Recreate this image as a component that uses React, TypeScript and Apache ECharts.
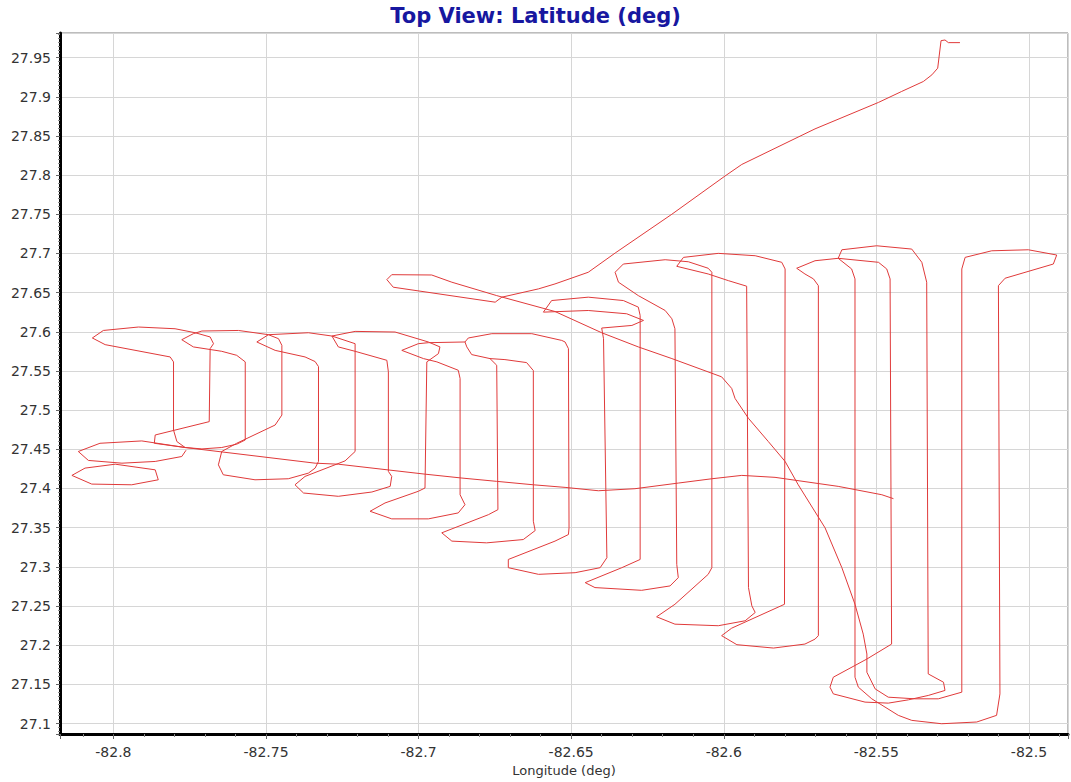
import React, { useEffect, useRef } from "react";
import * as echarts from "echarts";

// [longitude, latitude] pairs
const outboundLeg: number[][] = [
  [-82.5226, 27.9691], [-82.5264, 27.9691], [-82.5275, 27.9725], [-82.5288, 27.9716],
  [-82.5299, 27.9365], [-82.5318, 27.928], [-82.5346, 27.9195], [-82.5417, 27.9068],
  [-82.5493, 27.8928], [-82.5701, 27.859], [-82.5941, 27.8136], [-82.5996, 27.7988],
  [-82.617, 27.7501], [-82.6356, 27.7005], [-82.6444, 27.676], [-82.6553, 27.6611],
  [-82.6607, 27.6548], [-82.6727, 27.6442], [-82.6749, 27.6378],
];

const crossDiagonal: number[][] = [
  [-82.6749, 27.6378], [-82.7083, 27.6569], [-82.7104, 27.6666], [-82.7088, 27.6729],
  [-82.6957, 27.6725], [-82.6891, 27.6633], [-82.6744, 27.6462], [-82.6553, 27.6259],
  [-82.64, 27.5988], [-82.628, 27.5807], [-82.617, 27.5658], [-82.6007, 27.5425],
  [-82.5974, 27.5277], [-82.5963, 27.5149], [-82.5919, 27.4895], [-82.5854, 27.4599],
  [-82.5799, 27.4345], [-82.5756, 27.4047], [-82.5668, 27.3497], [-82.5613, 27.2989],
  [-82.557, 27.2522], [-82.5543, 27.2141], [-82.5531, 27.1887], [-82.5531, 27.1654],
  [-82.5504, 27.1442], [-82.5461, 27.1336], [-82.5373, 27.1315], [-82.5297, 27.1315],
  [-82.522, 27.14],
];

const eastSurvey: number[][] = [
  [-82.522, 27.14], [-82.522, 27.6802], [-82.5209, 27.695], [-82.5122, 27.7034],
  [-82.5002, 27.7047], [-82.4909, 27.698], [-82.492, 27.6865], [-82.5078, 27.6684],
  [-82.51, 27.6589], [-82.5095, 27.1378], [-82.5106, 27.1104], [-82.5171, 27.1019],
  [-82.5286, 27.0997], [-82.5384, 27.104], [-82.5428, 27.1104], [-82.5515, 27.1315],
  [-82.5559, 27.1464], [-82.557, 27.1591], [-82.557, 27.6675], [-82.5581, 27.6802],
  [-82.5625, 27.6938], [-82.5701, 27.6907], [-82.5761, 27.6811], [-82.5734, 27.6738],
  [-82.5706, 27.6675], [-82.569, 27.6589], [-82.569, 27.2121], [-82.5701, 27.2077],
  [-82.5734, 27.2014], [-82.5837, 27.1963], [-82.5957, 27.2006], [-82.6007, 27.2121],
  [-82.5974, 27.2217], [-82.5801, 27.2522], [-82.5799, 27.6802], [-82.581, 27.6887],
  [-82.5897, 27.6971], [-82.6018, 27.7001], [-82.6132, 27.695], [-82.6154, 27.6836],
  [-82.6051, 27.6738], [-82.5985, 27.6653], [-82.5925, 27.6582], [-82.5919, 27.2735],
  [-82.5908, 27.2502], [-82.5897, 27.2417], [-82.593, 27.2311], [-82.6018, 27.2248],
  [-82.616, 27.2268], [-82.622, 27.2362], [-82.616, 27.2522], [-82.6051, 27.2904],
  [-82.6039, 27.2989], [-82.6039, 27.676], [-82.6051, 27.6811], [-82.6116, 27.6894],
  [-82.6192, 27.692], [-82.6329, 27.6865], [-82.6356, 27.676], [-82.6345, 27.6633],
  [-82.628, 27.6462], [-82.6192, 27.6272], [-82.617, 27.6166], [-82.616, 27.6039],
  [-82.6154, 27.3031], [-82.6149, 27.2862], [-82.6176, 27.2756], [-82.6269, 27.27],
  [-82.6422, 27.2735], [-82.6454, 27.2798], [-82.6334, 27.2989], [-82.6274, 27.3094],
  [-82.6274, 27.6208], [-82.628, 27.6315], [-82.6329, 27.6399], [-82.6444, 27.6442],
  [-82.6564, 27.6399], [-82.6591, 27.6251], [-82.6444, 27.6272], [-82.6318, 27.623],
  [-82.6263, 27.6145], [-82.6301, 27.6081], [-82.64, 27.6048], [-82.6394, 27.5912],
  [-82.6383, 27.3116], [-82.6405, 27.2989], [-82.6487, 27.2925], [-82.6607, 27.2904],
  [-82.6706, 27.2989], [-82.6706, 27.3094], [-82.6553, 27.3328], [-82.6509, 27.3412],
  [-82.6507, 27.3497], [-82.6509, 27.5785], [-82.652, 27.587], [-82.6531, 27.589],
  [-82.6629, 27.5976], [-82.676, 27.5976], [-82.6837, 27.5921], [-82.6848, 27.587],
  [-82.6842, 27.5807], [-82.6826, 27.5709], [-82.6766, 27.5658], [-82.6744, 27.5573],
  [-82.674, 27.373], [-82.6771, 27.3666], [-82.6924, 27.3434], [-82.6891, 27.3328],
  [-82.6777, 27.3306], [-82.6657, 27.3348], [-82.6618, 27.3463], [-82.6624, 27.3582],
  [-82.6624, 27.5505], [-82.6646, 27.5607], [-82.6717, 27.5645], [-82.6766, 27.5658],
];

const westSurvey: number[][] = [
  [-82.6848, 27.587], [-82.6968, 27.5861], [-82.7001, 27.5848], [-82.7055, 27.5763],
  [-82.6984, 27.5658], [-82.694, 27.5616], [-82.687, 27.5509], [-82.6864, 27.5404],
  [-82.6864, 27.392], [-82.6848, 27.3793], [-82.687, 27.3688], [-82.6968, 27.3612],
  [-82.7088, 27.3612], [-82.7159, 27.3709], [-82.711, 27.3815], [-82.7001, 27.3964],
  [-82.6979, 27.4006], [-82.6973, 27.5616], [-82.6935, 27.5721], [-82.693, 27.5807],
  [-82.6968, 27.587], [-82.7077, 27.5997], [-82.7208, 27.6005], [-82.7284, 27.5946],
  [-82.7263, 27.5807], [-82.7208, 27.5751], [-82.7104, 27.5636], [-82.7099, 27.5489],
  [-82.7099, 27.4218], [-82.7088, 27.4154], [-82.7093, 27.4027], [-82.7153, 27.3955],
  [-82.7263, 27.39], [-82.7377, 27.3942], [-82.7405, 27.4047], [-82.7372, 27.4154],
  [-82.7241, 27.4352], [-82.7208, 27.4472], [-82.7208, 27.5848], [-82.7284, 27.5946],
  [-82.7361, 27.5988], [-82.7492, 27.5963], [-82.753, 27.587], [-82.747, 27.5763],
  [-82.7372, 27.5679], [-82.7339, 27.562], [-82.7328, 27.5556], [-82.7328, 27.4345],
  [-82.7339, 27.426], [-82.7361, 27.4196], [-82.7427, 27.4124], [-82.7536, 27.4111],
  [-82.764, 27.4175], [-82.7656, 27.4302], [-82.7645, 27.4472], [-82.7596, 27.4577],
  [-82.747, 27.481], [-82.7448, 27.4937], [-82.7448, 27.5827], [-82.7459, 27.5912],
  [-82.7492, 27.5963], [-82.759, 27.6017], [-82.771, 27.601], [-82.7738, 27.5976],
  [-82.7776, 27.5899], [-82.7738, 27.5807], [-82.7645, 27.5751], [-82.7596, 27.57],
  [-82.7568, 27.5616], [-82.7568, 27.4619], [-82.7596, 27.4565], [-82.7645, 27.4523],
  [-82.771, 27.4505], [-82.7765, 27.4523], [-82.7866, 27.4577], [-82.7863, 27.4683],
  [-82.7686, 27.4853], [-82.7683, 27.5785], [-82.7672, 27.5848], [-82.7683, 27.5934],
  [-82.7732, 27.5988], [-82.7798, 27.6039], [-82.7918, 27.6061], [-82.8033, 27.6017],
  [-82.8069, 27.5921], [-82.8027, 27.5836], [-82.7814, 27.5679], [-82.7803, 27.5616],
  [-82.7803, 27.4746], [-82.7792, 27.4599], [-82.7765, 27.4523],
];

const racetrack: number[][] = [
  [-82.533, 27.1633], [-82.528, 27.1527], [-82.5275, 27.1422], [-82.533, 27.1358],
  [-82.5395, 27.1302], [-82.5461, 27.126], [-82.5537, 27.1273], [-82.5641, 27.1378],
  [-82.5652, 27.1464], [-82.5641, 27.1591], [-82.5531, 27.1823], [-82.545, 27.2014],
  [-82.5455, 27.6675], [-82.5466, 27.6802], [-82.5493, 27.6887], [-82.5625, 27.6938],
  [-82.5613, 27.7047], [-82.5499, 27.7098], [-82.5384, 27.7056], [-82.5351, 27.6887],
  [-82.5335, 27.6633], [-82.533, 27.1633],
];

const westLoopUpper: number[][] = [
  [-82.7765, 27.4523], [-82.7907, 27.4607], [-82.8044, 27.4577], [-82.8115, 27.4472],
  [-82.8082, 27.4358], [-82.7972, 27.4323], [-82.7863, 27.4345], [-82.7776, 27.4408],
  [-82.7762, 27.4488],
];

const westLoopLower: number[][] = [
  [-82.8136, 27.4167], [-82.8093, 27.426], [-82.7994, 27.431], [-82.7863, 27.4238],
  [-82.7853, 27.4111], [-82.794, 27.4047], [-82.8071, 27.4056], [-82.8136, 27.4167],
];

const returnLeg: number[][] = [
  [-82.7765, 27.4523], [-82.7339, 27.4323], [-82.7263, 27.431], [-82.6979, 27.4183],
  [-82.6858, 27.4133], [-82.6744, 27.4091], [-82.6624, 27.4047], [-82.652, 27.4014],
  [-82.6411, 27.3971], [-82.6291, 27.3997], [-82.6149, 27.4069], [-82.6039, 27.4124],
  [-82.5941, 27.4167], [-82.5832, 27.4142], [-82.5701, 27.4069], [-82.5625, 27.4027],
  [-82.5482, 27.392], [-82.5444, 27.387],
];

const trackPieces: number[][][] = [
  outboundLeg, crossDiagonal, eastSurvey, westSurvey, racetrack,
  westLoopUpper, westLoopLower, returnLeg,
];

const FONT = "'DejaVu Sans', Verdana, sans-serif";

export default function App() {
  const ref = useRef<HTMLDivElement>(null);
  useEffect(() => {
    if (!ref.current) return;
    const chart = echarts.init(ref.current, undefined, { renderer: "svg" });
    chart.setOption({
      animation: false,
      backgroundColor: "#ffffff",
      title: {
        text: "Top View: Latitude (deg)",
        left: "center",
        top: 0,
        textStyle: { color: "#1717a0", fontSize: 21, fontWeight: "bold", fontFamily: FONT },
      },
      grid: {
        left: 60, right: 3, top: 33, bottom: 45,
        show: true, borderColor: "#7a7a7a", borderWidth: 1,
      },
      xAxis: {
        type: "value",
        min: -82.8175,
        max: -82.4872,
        splitNumber: 7,
        name: "Longitude (deg)",
        nameLocation: "middle",
        nameGap: 30,
        nameTextStyle: { color: "#333", fontSize: 13, fontFamily: FONT },
        axisLine: { show: true, onZero: false, lineStyle: { color: "#000", width: 3 } },
        axisTick: { show: true, length: 5, lineStyle: { color: "#666" } },
        minorTick: { show: true, splitNumber: 5, length: 3, lineStyle: { color: "#888" } },
        axisLabel: {
          color: "#333", fontSize: 14, fontFamily: FONT, margin: 11,
          showMinLabel: false, showMaxLabel: false,
          formatter: (v: number) => String(Math.round(v * 100) / 100),
        },
        splitLine: { show: true, lineStyle: { color: "#d6d6d6", width: 1 } },
      },
      yAxis: {
        type: "value",
        min: 27.0866,
        max: 27.9814,
        splitNumber: 18,
        axisLine: { show: true, onZero: false, lineStyle: { color: "#000", width: 3 } },
        axisTick: { show: true, length: 4, lineStyle: { color: "#666" } },
        minorTick: { show: true, splitNumber: 10, length: 2, lineStyle: { color: "#888" } },
        axisLabel: {
          color: "#333", fontSize: 14, fontFamily: FONT, margin: 9,
          showMinLabel: false, showMaxLabel: false,
          formatter: (v: number) => String(Math.round(v * 100) / 100),
        },
        splitLine: { show: true, lineStyle: { color: "#d6d6d6", width: 1 } },
      },
      series: trackPieces.map((piece) => ({
        type: "line",
        data: piece,
        showSymbol: false,
        symbol: "none",
        silent: true,
        lineStyle: { color: "#e03a3a", width: 1 },
      })),
    });
    return () => chart.dispose();
  }, []);
  return (
    <div
      ref={ref}
      style={{ position: "fixed", left: 0, top: 0, width: 1071, height: 782, background: "#fff" }}
    />
  );
}
